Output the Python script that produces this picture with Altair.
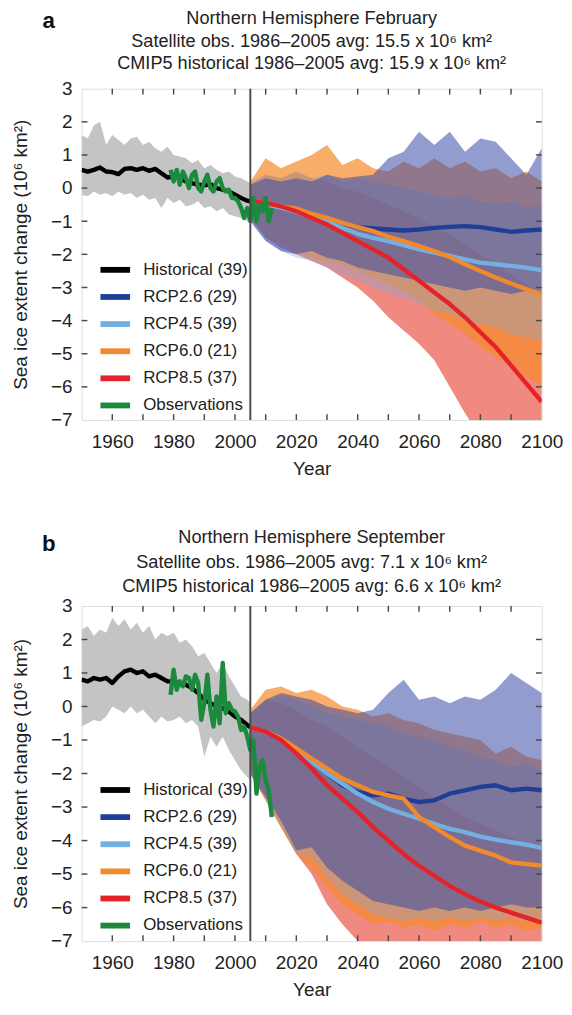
import altair as alt
import pandas as pd

FONT = "Liberation Sans"
TXT = "#222222"

# ---------------- shared categories / ticks ----------------
SERIES = ["Historical (39)", "RCP2.6 (29)", "RCP4.5 (39)", "RCP6.0 (21)", "RCP8.5 (37)", "Observations"]
LINE_COLORS = ["#000000", "#1f3e97", "#74afe2", "#f08a2c", "#e3222a", "#1b8a3c"]
SCEN = ["RCP2.6", "RCP4.5", "RCP6.0", "RCP8.5"]
BAND_COLORS = {"RCP2.6": "#3a4aa8", "RCP4.5": "#7fa9dc", "RCP6.0": "#f58a2a", "RCP8.5": "#e84a3a"}
BAND_OPACITY = {"RCP2.6": 0.55, "RCP4.5": 0.35, "RCP6.0": 0.7, "RCP8.5": 0.65}
BAND_ORDER = ["RCP8.5", "RCP6.0", "RCP4.5", "RCP2.6"]
HIST_BAND_COLOR = "#c4c4c4"

X_LABELS = [1960, 1980, 2000, 2020, 2040, 2060, 2080, 2100]
Y_LABELS = [-7, -6, -5, -4, -3, -2, -1, 0, 1, 2, 3]
X_TICKS = [1960, 1970, 1980, 1990, 2000, 2010, 2020, 2030, 2040, 2050, 2060, 2070, 2080, 2090]
Y_TICKS = [-6, -5, -4, -3, -2, -1, 0, 1, 2]

HIST_YEARS = [1950, 1952, 1954, 1956, 1958, 1960, 1962, 1964, 1966, 1968, 1970, 1972, 1974, 1976, 1978,
              1980, 1982, 1984, 1986, 1988, 1990, 1992, 1994, 1996, 1998, 2000, 2002, 2004, 2005]
OBS_YEARS = [1979, 1980, 1981, 1982, 1983, 1984, 1985, 1986, 1987, 1988, 1989, 1990, 1991, 1992, 1993, 1994,
             1995, 1996, 1997, 1998, 1999, 2000, 2001, 2002, 2003, 2004, 2005, 2006, 2007, 2008, 2009, 2010,
             2011, 2012]
PROJ_YEARS = [2005, 2010, 2015, 2020, 2025, 2030, 2035, 2040, 2045, 2050, 2055, 2060, 2065, 2070, 2075,
              2080, 2085, 2090, 2095, 2100]

# ---------------- panel a: February ----------------
A_HIST_MEAN = [0.55, 0.5, 0.55, 0.62, 0.5, 0.48, 0.42, 0.58, 0.6, 0.55, 0.6, 0.52, 0.58, 0.45, 0.32,
               0.35, 0.3, 0.2, 0.15, 0.1, 0.08, 0.12, 0.0, -0.05, -0.1, -0.2, -0.3, -0.38, -0.4]
A_HIST_HI = [1.6, 1.5, 1.9, 2.0, 1.3, 1.6, 1.45, 1.3, 1.5, 1.55, 1.3, 1.4, 1.2, 1.1, 1.25,
             1.0, 0.95, 0.9, 0.75, 0.85, 0.6, 0.7, 0.55, 0.45, 0.5, 0.35, 0.3, 0.2, 0.15]
A_HIST_LO = [-0.2, -0.25, -0.1, -0.2, -0.15, -0.25, -0.1, -0.2, -0.15, -0.3, -0.2, -0.35, -0.3, -0.6, -0.3,
             -0.45, -0.35, -0.55, -0.5, -0.4, -0.6, -0.55, -0.7, -0.6, -0.8, -0.85, -0.9, -1.0, -1.05]
A_OBS = [0.55, 0.2, 0.55, 0.1, 0.5, 0.3, 0.0, 0.4, 0.5, 0.0, -0.1, 0.2, 0.4, 0.0, -0.1, 0.2,
         0.3, 0.0, -0.1, -0.05, -0.3, -0.3, -0.4, -0.6, -0.9, -0.6, -1.0, -0.3, -1.0, -0.5, -0.7, -0.3,
         -1.0, -0.6]
A_MEAN = {
    "RCP2.6": [-0.4, -0.5, -0.6, -0.72, -0.85, -0.98, -1.08, -1.18, -1.22, -1.25, -1.28, -1.25, -1.2, -1.17,
               -1.15, -1.18, -1.25, -1.32, -1.28, -1.25],
    "RCP4.5": [-0.4, -0.5, -0.6, -0.72, -0.88, -1.02, -1.2, -1.38, -1.5, -1.6, -1.72, -1.85, -1.95, -2.05,
               -2.15, -2.25, -2.3, -2.35, -2.4, -2.48],
    "RCP6.0": [-0.4, -0.45, -0.55, -0.62, -0.78, -0.9, -1.05, -1.18, -1.3, -1.47, -1.6, -1.75, -1.9, -2.08,
               -2.3, -2.5, -2.7, -2.88, -3.05, -3.2],
    "RCP8.5": [-0.4, -0.45, -0.55, -0.7, -0.9, -1.1, -1.35, -1.6, -1.85, -2.1, -2.45, -2.8, -3.15, -3.5,
               -3.9, -4.35, -4.8, -5.35, -5.9, -6.45],
}
A_HI = {
    "RCP2.6": [0.1, 0.3, 0.2, 0.3, 0.2, 0.4, 0.3, 0.35, 0.4, 0.9, 1.1, 1.7, 1.3, 1.7, 1.1, 1.5, 1.4, 0.9, 0.4, 1.2],
    "RCP4.5": [0.2, 0.4, 0.3, 0.5, 0.3, 0.4, 0.2, 0.3, 0.2, 0.1, 0.0, -0.1, -0.2, -0.3, -0.2, -0.4, -0.5, -0.4,
               -0.6, -0.5],
    "RCP6.0": [0.2, 0.9, 0.6, 0.8, 1.0, 1.3, 0.7, 0.9, 0.6, 0.5, 0.8, 0.6, 0.9, 0.6, 0.8, 0.5, 0.6, 0.3, 0.5, 0.2],
    "RCP8.5": [0.1, 0.4, 0.3, 0.5, 0.3, 0.2, 0.0, -0.1, -0.3, -0.5, -0.7, -0.9, -1.2, -1.4, -1.7, -2.0, -2.3,
               -2.6, -2.9, -3.2],
}
A_LO = {
    "RCP2.6": [-1.0, -1.6, -1.9, -2.0, -1.9, -2.1, -2.2, -2.4, -2.5, -2.6, -2.7, -2.8, -2.9, -3.0, -3.1, -3.0,
               -3.1, -3.2, -3.1, -3.2],
    "RCP4.5": [-1.0, -1.6, -1.9, -2.1, -2.2, -2.4, -2.6, -2.8, -3.0, -3.2, -3.3, -3.5, -3.7, -3.8, -4.0, -4.1,
               -4.2, -4.4, -4.5, -4.6],
    "RCP6.0": [-0.9, -1.5, -1.7, -1.9, -2.1, -2.2, -2.3, -2.5, -2.7, -2.9, -3.1, -3.4, -3.8, -4.1, -4.4, -4.8,
               -5.1, -5.4, -5.7, -6.0],
    "RCP8.5": [-0.9, -1.5, -1.8, -2.0, -2.2, -2.4, -2.7, -3.0, -3.4, -3.9, -4.3, -4.7, -5.2, -6.0, -6.8, -7.5,
               -8.0, -8.5, -9.0, -9.5],
}
A_TITLE = ("Northern Hemisphere February\n"
           "Satellite obs. 1986\u20132005 avg: 15.5 x 10\u2076 km\u00b2\n"
           "CMIP5 historical 1986\u20132005 avg: 15.9 x 10\u2076 km\u00b2")

# ---------------- panel b: September ----------------
B_HIST_MEAN = [0.8, 0.75, 0.85, 0.8, 0.85, 0.7, 0.9, 1.05, 1.1, 1.0, 1.05, 0.9, 0.95, 0.85, 0.75,
               0.75, 0.7, 0.65, 0.55, 0.4, 0.2, 0.1, 0.0, -0.05, -0.15, -0.3, -0.4, -0.55, -0.62]
B_HIST_HI = [2.3, 2.4, 2.1, 2.3, 2.2, 2.65, 2.4, 2.6, 2.3, 2.5, 2.2, 2.4, 2.0, 2.2, 2.1,
             2.2, 1.9, 2.0, 1.8, 1.5, 1.6, 1.3, 1.0, 1.3, 0.9, 0.6, 0.3, 0.2, 0.1]
B_HIST_LO = [-0.6, -0.5, -0.4, -0.45, -0.3, 0.0, -0.1, -0.2, 0.0, -0.2, -0.1, -0.3, -0.5, -0.3, -0.45,
             -0.4, -0.3, -0.5, -0.4, -0.6, -1.5, -0.9, -1.2, -0.9, -1.3, -1.6, -1.9, -2.1, -2.2]
B_OBS = [0.35, 1.1, 0.5, 0.75, 0.6, 0.9, 0.85, 0.5, 0.95, 0.7, -0.4, 0.1, 0.95, -0.1, -0.6, 0.3,
         -0.5, 1.3, -0.2, 0.1, -0.1, -0.15, -0.3, -0.7, -0.6, -0.9, -1.3, -1.0, -2.6, -1.8, -1.6, -2.2,
         -2.5, -3.3]
B_MEAN = {
    "RCP2.6": [-0.62, -0.75, -0.95, -1.3, -1.65, -2.0, -2.35, -2.55, -2.65, -2.6, -2.75, -2.85, -2.8, -2.6,
               -2.5, -2.4, -2.35, -2.5, -2.45, -2.5],
    "RCP4.5": [-0.62, -0.75, -0.95, -1.3, -1.65, -2.0, -2.3, -2.6, -2.85, -3.05, -3.2, -3.35, -3.5, -3.65,
               -3.75, -3.88, -3.97, -4.05, -4.12, -4.22],
    "RCP6.0": [-0.62, -0.75, -0.95, -1.25, -1.55, -1.85, -2.15, -2.35, -2.55, -2.65, -2.75, -3.3, -3.6, -3.9,
               -4.15, -4.3, -4.45, -4.65, -4.7, -4.75],
    "RCP8.5": [-0.62, -0.75, -1.0, -1.4, -1.85, -2.35, -2.75, -3.15, -3.6, -4.0, -4.4, -4.75, -5.05, -5.35,
               -5.6, -5.82, -6.0, -6.15, -6.3, -6.45],
}
B_HI = {
    "RCP2.6": [-0.2, 0.2, 0.4, 0.3, 0.2, 0.0, -0.1, -0.2, -0.1, 0.4, 0.8, 0.2, 0.3, 0.1, 0.3, 0.2, 0.5, 1.0,
               0.7, 0.4],
    "RCP4.5": [-0.2, 0.2, 0.3, 0.2, 0.0, -0.2, -0.3, -0.4, -0.5, -0.6, -0.8, -0.9, -1.0, -1.2, -1.3, -1.5,
               -1.6, -1.8, -1.7, -1.9],
    "RCP6.0": [-0.1, 0.5, 0.6, 0.4, 0.5, 0.3, 0.0, -0.1, -0.3, -0.2, -0.4, -0.5, -0.7, -0.8, -0.9, -1.0,
               -1.4, -1.2, -1.5, -1.6],
    "RCP8.5": [-0.2, 0.2, 0.1, -0.1, -0.4, -0.6, -0.9, -1.2, -1.5, -1.8, -2.1, -2.4, -2.7, -3.0, -3.3, -3.5,
               -3.7, -3.9, -4.1, -4.3],
}
B_LO = {
    "RCP2.6": [-2.0, -2.7, -3.4, -4.3, -4.2, -4.8, -5.2, -5.5, -5.8, -5.9, -6.0, -6.1, -6.0, -6.1, -6.0, -6.1,
               -6.0, -5.9, -6.0, -6.0],
    "RCP4.5": [-2.0, -2.8, -3.6, -4.4, -4.5, -5.1, -5.6, -5.9, -6.2, -6.3, -6.4, -6.3, -6.4, -6.3, -6.4, -6.3,
               -6.4, -6.3, -6.4, -6.3],
    "RCP6.0": [-2.0, -2.8, -3.6, -4.4, -4.8, -5.4, -5.9, -6.2, -6.5, -6.4, -6.6, -6.5, -6.7, -6.5, -6.6, -6.4,
               -6.6, -6.5, -6.7, -6.6],
    "RCP8.5": [-2.0, -2.8, -3.6, -4.4, -5.0, -5.9, -6.5, -7.0, -7.5, -7.6, -7.8, -7.7, -7.9, -7.8, -8.0, -7.9,
               -8.1, -8.0, -8.2, -8.1],
}
B_TITLE = ("Northern Hemisphere September\n"
           "Satellite obs. 1986\u20132005 avg: 7.1 x 10\u2076 km\u00b2\n"
           "CMIP5 historical 1986\u20132005 avg: 6.6 x 10\u2076 km\u00b2")

W = 475
Y_TITLE = "Sea ice extent change (10\u2076 km\u00b2)"

XAXIS = alt.Axis(values=X_LABELS, format="d", labelFontSize=19.5, labelFont=FONT, labelColor=TXT,
                 domain=False, ticks=False, grid=False, labelPadding=13, labelFlush=False,
                 labelOverlap=False, titleFontSize=19.5, titleFont=FONT, titleFontWeight="normal",
                 titleColor=TXT, titlePadding=10)
YAXIS = alt.Axis(values=Y_LABELS, format="d", labelFontSize=19.5, labelFont=FONT, labelColor=TXT,
                 domain=False, ticks=False, grid=False, labelPadding=10, labelFlush=False,
                 labelOverlap=False, titleFontSize=19.5, titleFont=FONT, titleFontWeight="normal",
                 titleColor=TXT, titlePadding=21)
XS = alt.Scale(domain=[1950, 2100], nice=False, zero=False)
YS = alt.Scale(domain=[-7, 3], nice=False, zero=False)


def xenc(field):
    return alt.X(f"{field}:Q", scale=XS, axis=XAXIS, title="Year")


def yenc(field):
    return alt.Y(f"{field}:Q", scale=YS, axis=YAXIS, title=Y_TITLE)


def panel(hist_mean, hist_lo, hist_hi, obs, means, los, his, title, letter, height,
          title_y, title_lh, letter_y, legend_y):
    line_rows = []
    for yr, v in zip(HIST_YEARS, hist_mean):
        line_rows.append({"series": SERIES[0], "year": yr, "value": v})
    for i, sc in enumerate(SCEN):
        for yr, v in zip(PROJ_YEARS, means[sc]):
            line_rows.append({"series": SERIES[i + 1], "year": yr, "value": v})
    for yr, v in zip(OBS_YEARS, obs):
        line_rows.append({"series": SERIES[5], "year": yr, "value": v})
    lines_df = pd.DataFrame(line_rows)

    hist_band = pd.DataFrame({"year": HIST_YEARS, "lo": hist_lo, "hi": hist_hi})

    layers = [
        alt.Chart(hist_band).mark_area(color=HIST_BAND_COLOR, clip=True).encode(
            x=xenc("year"), y=yenc("lo"), y2="hi:Q")
    ]
    for sc in BAND_ORDER:
        bdf = pd.DataFrame({"year": PROJ_YEARS, "lo": los[sc], "hi": his[sc]})
        layers.append(
            alt.Chart(bdf).mark_area(color=BAND_COLORS[sc], opacity=BAND_OPACITY[sc], clip=True).encode(
                x=xenc("year"), y=yenc("lo"), y2="hi:Q")
        )

    legend = alt.Legend(orient="none", legendX=18.75, legendY=legend_y, title=None,
                        symbolType="M-1.2,0L1.2,0", symbolSize=650, symbolStrokeWidth=6,
                        symbolOpacity=1, labelFontSize=17.5, labelFont=FONT, labelColor=TXT,
                        labelOffset=12.75, rowPadding=0, padding=0, labelLimit=300)
    layers.append(
        alt.Chart(lines_df).mark_line(strokeWidth=4.5, strokeJoin="round", clip=True).encode(
            x=xenc("year"), y=yenc("value"),
            color=alt.Color("series:N", scale=alt.Scale(domain=SERIES, range=LINE_COLORS), legend=legend),
            order=alt.Order("year:Q"))
    )
    layers.append(
        alt.Chart(pd.DataFrame({"year": [2005]})).mark_rule(color="#4a4a4a", strokeWidth=2).encode(
            x=xenc("year"))
    )
    xt = pd.DataFrame({"year": X_TICKS})
    yt = pd.DataFrame({"v": Y_TICKS})
    tick_style = dict(color="#4a4a4a", strokeWidth=1.5)
    layers.append(alt.Chart(xt).mark_rule(**tick_style).encode(
        x=xenc("year"), y=alt.value(height), y2=alt.value(height - 6)))
    layers.append(alt.Chart(xt).mark_rule(**tick_style).encode(
        x=xenc("year"), y=alt.value(0), y2=alt.value(6)))
    layers.append(alt.Chart(yt).mark_rule(**tick_style).encode(
        y=yenc("v"), x=alt.value(0), x2=alt.value(6)))
    layers.append(alt.Chart(yt).mark_rule(**tick_style).encode(
        y=yenc("v"), x=alt.value(W), x2=alt.value(W - 6)))
    # title block and panel letter
    layers.append(
        alt.Chart(pd.DataFrame({"t": [title]})).mark_text(
            font=FONT, fontSize=18.7, color=TXT, align="center", baseline="top",
            lineBreak="\n", lineHeight=title_lh
        ).encode(x=alt.value(W / 2), y=alt.value(title_y), text="t:N")
    )
    layers.append(
        alt.Chart(pd.DataFrame({"letter": [letter]})).mark_text(
            font=FONT, fontSize=23, fontWeight="bold", color="#111", align="center", baseline="middle"
        ).encode(x=alt.value(-34), y=alt.value(letter_y), text="letter:N")
    )
    return alt.layer(*layers).properties(width=W, height=height)


pa = panel(A_HIST_MEAN, A_HIST_LO, A_HIST_HI, A_OBS, A_MEAN, A_LO, A_HI, A_TITLE, "a", 342,
           -82, 23.5, -70, 171)
pb = panel(B_HIST_MEAN, B_HIST_LO, B_HIST_HI, B_OBS, B_MEAN, B_LO, B_HI, B_TITLE, "b", 346,
           -80, 25.5, -64, 174)

chart = alt.vconcat(pa, pb, spacing=50).resolve_scale(color="independent").properties(
    padding={"top": -16, "left": 2, "right": 0, "bottom": 0}, background="white"
).configure_view(stroke="#5a5a5a", strokeWidth=2).configure(font=FONT)

chart.save("out.html", embed_options={"renderer": "svg", "actions": False})
